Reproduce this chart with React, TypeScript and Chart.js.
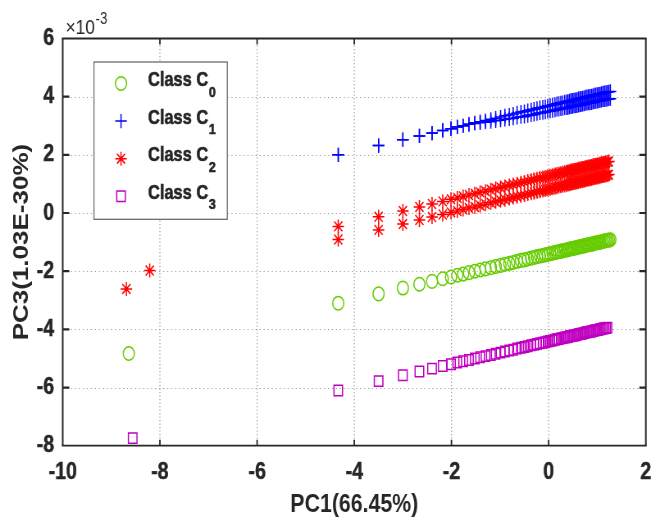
import React, { useEffect, useRef } from 'react';
import { Chart, registerables } from 'chart.js';
import { drawPoint } from 'chart.js/helpers';

Chart.register(...registerables);

// ---------------- data (PC3 values in units of 1e-3, as the axis multiplier shows) ----------------
const PC1_MAIN = [
  -4.33, -3.5, -3.0, -2.66, -2.4, -2.18, -2.01, -1.88, -1.76, -1.64, -1.52, -1.41, -1.3, -1.19,
  -1.09, -0.99, -0.9, -0.81, -0.73, -0.65, -0.57, -0.5, -0.43, -0.36, -0.3, -0.24, -0.18, -0.12,
  -0.07, -0.02, 0.03, 0.08, 0.13, 0.17, 0.21, 0.25, 0.29, 0.33, 0.37, 0.4, 0.43, 0.46, 0.49, 0.52,
  0.55, 0.58, 0.61, 0.64, 0.67, 0.7, 0.73, 0.76, 0.79, 0.82, 0.85, 0.88, 0.91, 0.94, 0.97, 1.0,
  1.03, 1.06, 1.09, 1.12, 1.15, 1.18, 1.21, 1.24, 1.27,
];

const C0_PC3 = [
  -3.1, -2.78, -2.58, -2.45, -2.35, -2.26, -2.2, -2.14, -2.1, -2.05, -2.0, -1.96, -1.92, -1.88,
  -1.84, -1.8, -1.76, -1.73, -1.7, -1.66, -1.63, -1.61, -1.58, -1.55, -1.53, -1.5, -1.48, -1.46,
  -1.44, -1.42, -1.4, -1.38, -1.36, -1.34, -1.33, -1.31, -1.3, -1.28, -1.27, -1.26, -1.24, -1.23,
  -1.22, -1.21, -1.2, -1.19, -1.17, -1.16, -1.15, -1.14, -1.13, -1.11, -1.1, -1.09, -1.08, -1.07,
  -1.06, -1.04, -1.03, -1.02, -1.01, -1.0, -0.99, -0.97, -0.96, -0.95, -0.94, -0.93, -0.92,
];

const C1_PC3_UPPER = [
  2.0, 2.32, 2.52, 2.65, 2.75, 2.84, 2.9, 2.96, 3.0, 3.05, 3.1, 3.14, 3.18, 3.22, 3.26, 3.3, 3.34,
  3.37, 3.4, 3.44, 3.47, 3.49, 3.52, 3.55, 3.57, 3.6, 3.62, 3.64, 3.66, 3.68, 3.7, 3.72, 3.74, 3.76,
  3.77, 3.79, 3.8, 3.82, 3.83, 3.84, 3.86, 3.87, 3.88, 3.89, 3.9, 3.91, 3.93, 3.94, 3.95, 3.96,
  3.97, 3.99, 4.0, 4.01, 4.02, 4.03, 4.04, 4.06, 4.07, 4.08, 4.09, 4.1, 4.11, 4.13, 4.14, 4.15,
  4.16, 4.17, 4.18,
];

const C1_PC3_LOWER = [
  2.0, 2.32, 2.52, 2.65, 2.75, 2.84, 2.9, 2.96, 3.0, 3.05, 3.08, 3.1, 3.12, 3.14, 3.17, 3.19, 3.22,
  3.24, 3.26, 3.29, 3.31, 3.32, 3.35, 3.37, 3.39, 3.42, 3.44, 3.45, 3.47, 3.49, 3.5, 3.52, 3.54,
  3.56, 3.56, 3.58, 3.59, 3.61, 3.61, 3.62, 3.64, 3.65, 3.66, 3.67, 3.67, 3.68, 3.7, 3.71, 3.72,
  3.73, 3.74, 3.76, 3.77, 3.78, 3.78, 3.79, 3.8, 3.82, 3.83, 3.84, 3.85, 3.86, 3.87, 3.89, 3.89,
  3.9, 3.91, 3.92, 3.93,
];

const C2_PC3_UPPER = [
  -0.46, -0.13, 0.07, 0.21, 0.31, 0.4, 0.47, 0.52, 0.57, 0.62, 0.66, 0.71, 0.75, 0.8, 0.84, 0.88,
  0.91, 0.95, 0.98, 1.01, 1.04, 1.07, 1.1, 1.13, 1.15, 1.18, 1.2, 1.22, 1.24, 1.26, 1.28, 1.3,
  1.32, 1.34, 1.36, 1.37, 1.39, 1.4, 1.42, 1.43, 1.44, 1.46, 1.47, 1.48, 1.49, 1.5, 1.52, 1.53,
  1.54, 1.55, 1.56, 1.58, 1.59, 1.6, 1.61, 1.62, 1.64, 1.65, 1.66, 1.67, 1.68, 1.7, 1.71, 1.72,
  1.73, 1.74, 1.76, 1.77,
];

const C2_PC3_LOWER = [
  -0.91, -0.58, -0.38, -0.24, -0.14, -0.05, 0.02, 0.07, 0.12, 0.17, 0.21, 0.26, 0.3, 0.35, 0.39,
  0.43, 0.46, 0.5, 0.53, 0.56, 0.59, 0.62, 0.65, 0.68, 0.7, 0.73, 0.75, 0.77, 0.79, 0.81, 0.83,
  0.85, 0.87, 0.89, 0.91, 0.92, 0.94, 0.95, 0.97, 0.98, 0.99, 1.01, 1.02, 1.03, 1.04, 1.05, 1.07,
  1.08, 1.09, 1.1, 1.11, 1.13, 1.14, 1.15, 1.16, 1.17, 1.19, 1.2, 1.21, 1.22, 1.23, 1.25, 1.26,
  1.27, 1.28, 1.29, 1.31, 1.32,
];

const C3_PC3 = [
  -6.1, -5.78, -5.58, -5.45, -5.35, -5.26, -5.2, -5.14, -5.1, -5.05, -5.0, -4.96, -4.92, -4.88,
  -4.84, -4.8, -4.76, -4.73, -4.7, -4.66, -4.63, -4.61, -4.58, -4.55, -4.53, -4.5, -4.48, -4.46,
  -4.44, -4.42, -4.4, -4.38, -4.36, -4.34, -4.33, -4.31, -4.3, -4.28, -4.27, -4.26, -4.24, -4.23,
  -4.22, -4.21, -4.2, -4.19, -4.17, -4.16, -4.15, -4.14, -4.13, -4.11, -4.1, -4.09, -4.08, -4.07,
  -4.06, -4.04, -4.03, -4.02, -4.01, -4.0, -3.99, -3.97, -3.96, -3.95, -3.94,
];

// isolated samples on the far left
const C0_FAR_PC1 = [-8.64];
const C0_FAR_PC3 = [-4.83];
const C2_FAR_PC1 = [-8.21, -8.69];
const C2_FAR_PC3 = [-1.98, -2.61];
const C3_FAR_PC1 = [-8.56];
const C3_FAR_PC3 = [-7.74];

const X_TICKS = [-10, -8, -6, -4, -2, 0, 2];
const Y_TICKS = [-8, -6, -4, -2, 0, 2, 4, 6];
const CLASS_NAMES = ['Class C', 'Class C', 'Class C', 'Class C'];
const CLASS_SUBS = ['0', '1', '2', '3'];
const X_TITLE = 'PC1(66.45%)';
const Y_TITLE = 'PC3(1.03E-30%)';
const EXP_BASE = '×10';
const EXP_POWER = '-3';

// ---------------- styling ----------------
const FONT = "'Liberation Sans', Arial, Helvetica, sans-serif";
const AX = '#262626';
const GRID = '#9a9a9a';
const COLORS = ['#66cc00', '#0000ff', '#ff0000', '#c000c0'];
const STYLES = ['circle', 'cross', 'star', 'rect'];
const RADII = [6.8, 7.1, 7.0, 7.4];
const MARK_W = 1.5;

// the reference is squeezed horizontally: draw wider, show at 651px
const CW = 794;
const CH = 524;

const zip = (xs: number[], ys: number[]) => ys.map((v, i) => ({ x: xs[i], y: v }));

function makeSet(cls: number, pts: { x: number; y: number }[]) {
  return {
    label: CLASS_NAMES[cls] + CLASS_SUBS[cls],
    data: pts,
    pointStyle: STYLES[cls],
    pointRadius: RADII[cls],
    pointHoverRadius: RADII[cls],
    pointBorderWidth: MARK_W,
    pointBorderColor: COLORS[cls],
    pointBackgroundColor: 'rgba(0,0,0,0)',
    showLine: false,
  };
}

const decor = {
  id: 'decor',
  beforeDatasetsDraw(chart: any) {
    const { ctx, chartArea: a, scales } = chart;
    const xs = scales.x;
    const ys = scales.y;
    ctx.save();
    ctx.strokeStyle = GRID;
    ctx.lineWidth = 1.2;
    ctx.setLineDash([1.2, 2.3]);
    for (const t of xs.ticks) {
      if (t.value <= xs.min || t.value >= xs.max) continue;
      const px = xs.getPixelForValue(t.value);
      ctx.beginPath();
      ctx.moveTo(px, a.top);
      ctx.lineTo(px, a.bottom);
      ctx.stroke();
    }
    ctx.lineWidth = 1;
    ctx.setLineDash([1.3, 3.6]);
    for (const t of ys.ticks) {
      if (t.value <= ys.min || t.value >= ys.max) continue;
      const py = Math.round(ys.getPixelForValue(t.value)) + 0.5;
      ctx.beginPath();
      ctx.moveTo(a.left, py);
      ctx.lineTo(a.right, py);
      ctx.stroke();
    }
    ctx.restore();
  },
  afterDraw(chart: any) {
    const { ctx, chartArea: a, scales } = chart;
    const xs = scales.x;
    const ys = scales.y;
    ctx.save();
    ctx.setLineDash([]);
    ctx.strokeStyle = AX;
    // ticks pointing inward, on all four sides
    ctx.lineWidth = 1.8;
    for (const t of xs.ticks) {
      if (t.value <= xs.min || t.value >= xs.max) continue;
      const px = xs.getPixelForValue(t.value);
      ctx.beginPath();
      ctx.moveTo(px, a.bottom);
      ctx.lineTo(px, a.bottom - 6);
      ctx.moveTo(px, a.top);
      ctx.lineTo(px, a.top + 6);
      ctx.stroke();
    }
    ctx.lineWidth = 2.2;
    for (const t of ys.ticks) {
      if (t.value <= ys.min || t.value >= ys.max) continue;
      const py = ys.getPixelForValue(t.value);
      ctx.beginPath();
      ctx.moveTo(a.left, py);
      ctx.lineTo(a.left + 8, py);
      ctx.moveTo(a.right, py);
      ctx.lineTo(a.right - 8, py);
      ctx.stroke();
    }
    // box
    ctx.lineWidth = 1.8;
    ctx.beginPath();
    ctx.moveTo(a.left - 1, a.top);
    ctx.lineTo(a.right + 1, a.top);
    ctx.moveTo(a.left - 1, a.bottom);
    ctx.lineTo(a.right + 1, a.bottom);
    ctx.stroke();
    ctx.lineWidth = 2.0;
    ctx.beginPath();
    ctx.moveTo(a.left, a.top);
    ctx.lineTo(a.left, a.bottom);
    ctx.moveTo(a.right, a.top);
    ctx.lineTo(a.right, a.bottom);
    ctx.stroke();

    // exponent label
    ctx.fillStyle = AX;
    ctx.textAlign = 'left';
    ctx.textBaseline = 'alphabetic';
    ctx.font = `21px ${FONT}`;
    const ex = a.left + 3.5;
    ctx.fillText(EXP_BASE, ex, 33.5);
    const ew = ctx.measureText(EXP_BASE).width;
    ctx.font = `16px ${FONT}`;
    ctx.fillText(EXP_POWER, ex + ew + 1, 23.5);

    // legend
    const lx0 = 114.6, ly0 = 62, lx1 = 277.2, ly1 = 219.3;
    ctx.fillStyle = '#ffffff';
    ctx.fillRect(lx0, ly0, lx1 - lx0, ly1 - ly0);
    ctx.strokeStyle = '#5e5e5e';
    ctx.lineWidth = 1.2;
    ctx.strokeRect(lx0, ly0, lx1 - lx0, ly1 - ly0);
    for (let i = 0; i < CLASS_NAMES.length; i++) {
      const cy = 83.5 + i * 37.6;
      ctx.strokeStyle = COLORS[i];
      ctx.fillStyle = 'rgba(0,0,0,0)';
      ctx.lineWidth = MARK_W;
      drawPoint(ctx, { pointStyle: STYLES[i], radius: RADII[i], rotation: 0, borderWidth: MARK_W }, 147.6, cy);
      ctx.fillStyle = AX;
      ctx.strokeStyle = AX;
      ctx.lineWidth = 0.6;
      ctx.font = `bold 20px ${FONT}`;
      ctx.fillText(CLASS_NAMES[i], 180.5, cy + 2.5);
      ctx.strokeText(CLASS_NAMES[i], 180.5, cy + 2.5);
      const w = ctx.measureText(CLASS_NAMES[i]).width;
      ctx.font = `bold 15px ${FONT}`;
      ctx.fillText(CLASS_SUBS[i], 180.5 + w + 1, cy + 13);
      ctx.strokeText(CLASS_SUBS[i], 180.5 + w + 1, cy + 13);
    }
    ctx.restore();
  },
};

export default function App() {
  const ref = useRef<HTMLCanvasElement>(null);
  useEffect(() => {
    const canvas = ref.current;
    if (!canvas) return;
    const tickFont = { family: FONT, size: 24, weight: 'bold' as const };
    const titleFont = { family: FONT, size: 26, weight: 'bold' as const };
    const chart = new Chart(canvas, {
      type: 'scatter',
      data: {
        datasets: [
          makeSet(0, [...zip(C0_FAR_PC1, C0_FAR_PC3), ...zip(PC1_MAIN, C0_PC3)]),
          makeSet(1, zip(PC1_MAIN, C1_PC3_UPPER)),
          makeSet(1, zip(PC1_MAIN, C1_PC3_LOWER)),
          makeSet(2, [...zip(C2_FAR_PC1, C2_FAR_PC3), ...zip(PC1_MAIN, C2_PC3_UPPER)]),
          makeSet(2, zip(PC1_MAIN, C2_PC3_LOWER)),
          makeSet(3, [...zip(C3_FAR_PC1, C3_FAR_PC3), ...zip(PC1_MAIN, C3_PC3)]),
        ] as any,
      },
      options: {
        animation: false,
        responsive: false,
        devicePixelRatio: 1,
        events: [],
        layout: { autoPadding: false, padding: { top: 38.5, right: 6.3, left: 0, bottom: 0 } },
        plugins: { legend: { display: false }, tooltip: { enabled: false } },
        scales: {
          x: {
            type: 'linear',
            min: -10,
            max: 2,
            afterBuildTicks: (s: any) => {
              s.ticks = X_TICKS.map((v) => ({ value: v }));
            },
            afterFit: (s: any) => {
              s.height = 78.3;
              s.paddingLeft = 0;
              s.paddingRight = 0;
            },
            grid: { display: false, drawTicks: false },
            border: { display: false },
            ticks: {
              padding: 12,
              color: AX,
              font: tickFont,
              maxRotation: 0,
              autoSkip: false,
              textStrokeColor: AX,
              textStrokeWidth: 0.5,
            },
            title: { display: true, text: X_TITLE, color: AX, font: titleFont, padding: { top: 0, bottom: 4 } },
          },
          y: {
            type: 'linear',
            min: -8,
            max: 6,
            afterBuildTicks: (s: any) => {
              s.ticks = Y_TICKS.map((v) => ({ value: v }));
            },
            afterFit: (s: any) => {
              s.width = 76.5;
              s.paddingTop = 0;
              s.paddingBottom = 0;
            },
            grid: { display: false, drawTicks: false },
            border: { display: false },
            ticks: {
              padding: 10.5,
              color: AX,
              font: tickFont,
              autoSkip: false,
              textStrokeColor: AX,
              textStrokeWidth: 0.5,
            },
            title: { display: true, text: Y_TITLE, color: AX, font: titleFont, padding: { top: 11, bottom: 0 } },
          },
        },
      } as any,
      plugins: [decor],
    });
    return () => chart.destroy();
  }, []);
  return (
    <div style={{ position: 'absolute', left: 0, top: 0, width: 651, height: 524, background: '#ffffff' }}>
      <canvas ref={ref} width={CW} height={CH} style={{ width: '651px', height: '524px', display: 'block' }} />
    </div>
  );
}
